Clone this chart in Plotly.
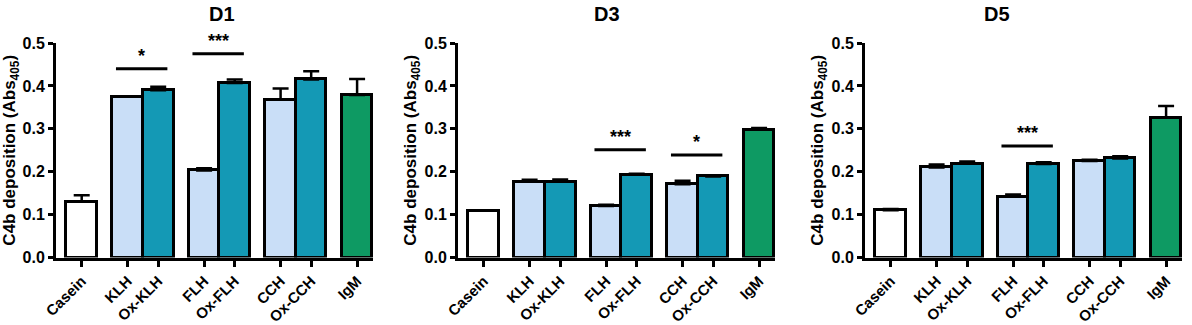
import plotly.graph_objects as go

# ---- data ----
groups = [["Casein"], ["KLH", "Ox-KLH"], ["FLH", "Ox-FLH"], ["CCH", "Ox-CCH"], ["IgM"]]
categories = [c for g in groups for c in g]
panels = ["D1", "D3", "D5"]

d1_mean = [0.130, 0.375, 0.390, 0.203, 0.407, 0.368, 0.415, 0.379]
d1_sem = [0.015, 0.001, 0.008, 0.005, 0.008, 0.026, 0.019, 0.037]
d3_mean = [0.109, 0.177, 0.177, 0.120, 0.193, 0.171, 0.189, 0.298]
d3_sem = [0.001, 0.004, 0.005, 0.003, 0.002, 0.008, 0.003, 0.004]
d5_mean = [0.110, 0.210, 0.219, 0.142, 0.218, 0.225, 0.231, 0.326]
d5_sem = [0.003, 0.007, 0.005, 0.005, 0.004, 0.003, 0.005, 0.027]

# significance: (label, first category, second category, height)
d1_sig = [("*", "KLH", "Ox-KLH", 0.440), ("***", "FLH", "Ox-FLH", 0.475)]
d3_sig = [("***", "FLH", "Ox-FLH", 0.251), ("*", "CCH", "Ox-CCH", 0.239)]
d5_sig = [("***", "FLH", "Ox-FLH", 0.260)]

means = [d1_mean, d3_mean, d5_mean]
sems = [d1_sem, d3_sem, d5_sem]
sigs = [d1_sig, d3_sig, d5_sig]

# ---- styling ----
WHITE, LIGHT, TEAL, GREEN = "#FFFFFF", "#C9DEF7", "#1499B5", "#0E9A63"
bar_colors = [WHITE, LIGHT, TEAL, LIGHT, TEAL, LIGHT, TEAL, GREEN]
FONT = "Liberation Sans, Arial, sans-serif"

# positions: groups separated by an extra half bar width
pos = []
x = 0.0
for gi, g in enumerate(groups):
    for j, c in enumerate(g):
        pos.append(x)
        x += 1.0
    x += 0.5
pos_of = dict(zip(categories, pos))

W, H = 1192, 325
x_px = [(56, 373), (458, 775), (865, 1182)]
title_px = [207, 607, 1012]
y_dom = [1 - 257.5 / H, 1 - 43 / H]

fig = go.Figure()
annotations = []
shapes = []
for i, name in enumerate(panels):
    ax = "" if i == 0 else str(i + 1)
    fig.add_trace(go.Bar(
        x=pos, y=means[i], width=1.0,
        marker=dict(color=bar_colors, line=dict(color="black", width=3)),
        error_y=dict(type="data", symmetric=False, array=sems[i],
                     arrayminus=[0] * len(sems[i]), color="black",
                     thickness=2.5, width=8),
        xaxis="x" + ax, yaxis="y" + ax, showlegend=False, hoverinfo="skip",
    ))
    fig.layout["xaxis" + ax] = dict(
        domain=[x_px[i][0] / W, x_px[i][1] / W], anchor="y" + ax,
        range=[-0.84, 9.52], tickvals=pos, ticktext=categories, tickangle=-45,
        showline=True, linecolor="black", linewidth=3, ticks="outside",
        ticklen=6, tickwidth=2.5, tickcolor="black", showgrid=False,
        zeroline=False, automargin=False,
        tickfont=dict(family=FONT, size=15, color="black", weight="bold"),
    )
    fig.layout["yaxis" + ax] = dict(
        domain=y_dom, anchor="x" + ax, range=[0, 0.5],
        tickvals=[0, 0.1, 0.2, 0.3, 0.4, 0.5], tickformat=".1f",
        showline=True, linecolor="black", linewidth=3, ticks="outside",
        ticklen=5, tickwidth=2.5, tickcolor="black", showgrid=False,
        zeroline=False, automargin=False,
        tickfont=dict(family=FONT, size=16, color="black", weight="bold"),
        title=dict(text="<b>C4b deposition (Abs<sub>405</sub>)</b>",
                   font=dict(family=FONT, size=17, color="black"), standoff=4),
    )
    annotations.append(dict(
        text="<b>%s</b>" % name, x=title_px[i] / W, y=1 - 14 / H,
        xref="paper", yref="paper", yanchor="middle", showarrow=False,
        font=dict(family=FONT, size=20, color="black"),
    ))
    for lab, a, b, h in sigs[i]:
        x0 = pos_of[a] - 0.38
        x1 = pos_of[b] + 0.3
        shapes.append(dict(type="line", x0=x0, x1=x1, y0=h, y1=h,
                           xref="x" + ax, yref="y" + ax,
                           line=dict(color="black", width=3)))
        annotations.append(dict(
            text="<b>%s</b>" % lab, x=(x0 + x1) / 2, y=h, xref="x" + ax,
            yref="y" + ax, yanchor="bottom", yshift=1, showarrow=False,
            font=dict(family=FONT, size=18, color="black"),
        ))

fig.update_layout(
    template="none",
    width=W, height=H, margin=dict(l=0, r=0, t=0, b=0, autoexpand=False),
    plot_bgcolor="white", paper_bgcolor="white",
    annotations=annotations, shapes=shapes, bargap=0, hovermode=False,
)
fig.write_html("out.html", config={"displayModeBar": False},
               post_script="document.body.style.margin='0';document.body.style.overflow='hidden';")
